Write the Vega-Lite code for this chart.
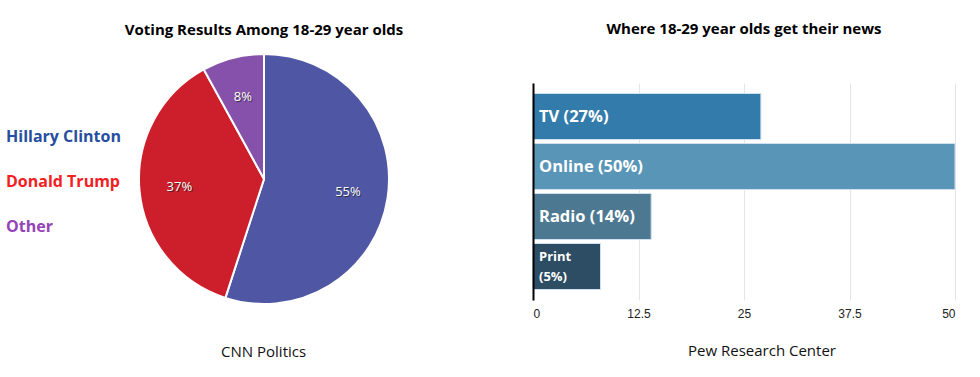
{
  "$schema": "https://vega.github.io/schema/vega-lite/v6.json",
  "background": "white",
  "padding": {"left": 6, "top": 22, "right": 5, "bottom": 5},
  "config": {"font": "Open Sans", "view": {"stroke": null}},
  "spacing": 128,
  "resolve": {"scale": {"color": "independent"}, "legend": {"color": "independent"}},
  "hconcat": [
    {
      "title": {"text": "CNN Politics", "orient": "bottom", "anchor": "middle", "fontSize": 15, "fontWeight": "normal", "color": "#111", "offset": 37, "dx": 59},
      "vconcat": [
        {
          "width": 252,
          "height": 192,
          "title": {"text": "Voting Results Among 18-29 year olds", "fontSize": 15, "fontWeight": "bold", "color": "#000", "frame": "group", "offset": 12},
          "data": {"values": [
            {"candidate": "Hillary Clinton", "share": 0.55},
            {"candidate": "Donald Trump", "share": 0.37},
            {"candidate": "Other", "share": 0.08}
          ]},
          "encoding": {
            "theta": {"field": "share", "type": "quantitative", "stack": true},
            "order": {"field": "share", "type": "quantitative", "sort": "descending"}
          },
          "layer": [
            {
              "mark": {"type": "arc", "outerRadius": 125, "stroke": "white", "strokeWidth": 2},
              "encoding": {
                "color": {
                  "field": "candidate", "type": "nominal",
                  "scale": {"domain": ["Hillary Clinton", "Donald Trump", "Other"], "range": ["#4f56a4", "#cd1f2b", "#8651ab"]},
                  "legend": {
                    "orient": "none", "legendX": -132, "legendY": 46,
                    "title": null, "symbolSize": 1, "symbolOpacity": 0, "symbolStrokeWidth": 0,
                    "labelFontSize": 16, "labelFontWeight": "bold", "labelFont": "Open Sans",
                    "rowPadding": 29, "labelOffset": -16, "padding": 0,
                    "labelColor": {"expr": "datum.value === 'Hillary Clinton' ? '#284ea0' : datum.value === 'Donald Trump' ? '#f2201f' : '#9443b8'"}
                  }
                }
              }
            },
            {
              "mark": {"type": "text", "radius": 85, "dx": 1, "dy": 1, "fill": "#222", "opacity": 0.7, "fontSize": 13},
              "encoding": {"text": {"field": "share", "type": "quantitative", "format": ".0%"}}
            },
            {
              "mark": {"type": "text", "radius": 85, "fill": "white", "fontSize": 13},
              "encoding": {"text": {"field": "share", "type": "quantitative", "format": ".0%"}}
            }
          ]
        }
      ]
    },
    {
      "title": {"text": "Pew Research Center", "orient": "bottom", "anchor": "middle", "fontSize": 15, "fontWeight": "normal", "color": "#111", "offset": 25, "dx": 18},
      "vconcat": [
        {
          "width": 422,
          "height": 217,
          "title": {"text": "Where 18-29 year olds get their news", "fontSize": 15, "fontWeight": "bold", "color": "#000", "frame": "group", "offset": 46},
          "data": {"values": [
            {"source": "TV", "label": "TV (27%)", "value": 27},
            {"source": "Online", "label": "Online (50%)", "value": 50},
            {"source": "Radio", "label": "Radio (14%)", "value": 14},
            {"source": "Print", "label": "Print\n(5%)", "value": 8}
          ]},
          "encoding": {
            "y": {
              "field": "source", "type": "nominal", "sort": null,
              "scale": {"paddingInner": 0.08, "paddingOuter": 0.21},
              "axis": {"labels": false, "ticks": false, "title": null, "domainColor": "#000", "domainWidth": 2, "zindex": 1}
            }
          },
          "layer": [
            {
              "mark": {"type": "bar", "stroke": "#cfe1ee", "strokeWidth": 1},
              "encoding": {
                "x": {
                  "field": "value", "type": "quantitative",
                  "scale": {"domain": [0, 50], "nice": false},
                  "axis": {
                    "values": [0, 12.5, 25, 37.5, 50], "format": ".1~f", "domain": false, "ticks": false,
                    "gridColor": "#e4e4e4", "labelFont": "Liberation Sans", "labelFontSize": 12, "labelColor": "#222",
                    "labelPadding": 8, "title": null
                  }
                },
                "color": {
                  "field": "source", "type": "nominal",
                  "scale": {"domain": ["TV", "Online", "Radio", "Print"], "range": ["#337bab", "#5895b6", "#4d7891", "#2c4d63"]},
                  "legend": null
                }
              }
            },
            {
              "transform": [{"filter": "datum.source !== 'Print'"}],
              "mark": {"type": "text", "align": "left", "dx": 6, "color": "white", "fontWeight": "bold", "fontSize": 16.5},
              "encoding": {
                "x": {"datum": 0, "type": "quantitative"},
                "text": {"field": "label"}
              }
            },
            {
              "transform": [{"filter": "datum.source === 'Print'"}],
              "mark": {"type": "text", "align": "left", "dx": 6, "dy": -10, "color": "white", "fontWeight": "bold", "fontSize": 13, "lineBreak": "\n", "lineHeight": 20},
              "encoding": {
                "x": {"datum": 0, "type": "quantitative"},
                "text": {"field": "label"}
              }
            }
          ]
        }
      ]
    }
  ]
}
